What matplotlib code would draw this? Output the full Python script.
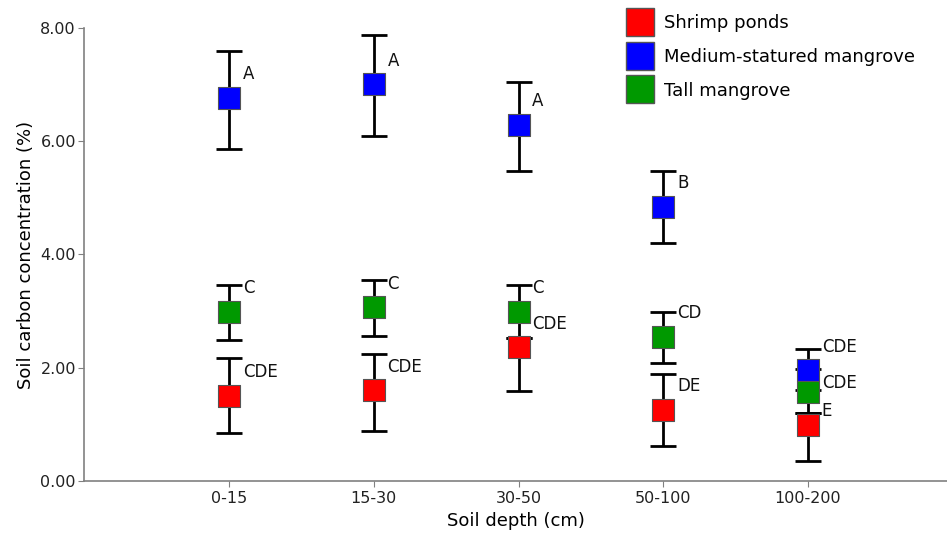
import matplotlib.pyplot as plt
from matplotlib.lines import Line2D

depths = ['0-15', '15-30', '30-50', '50-100', '100-200']
series = ['Shrimp ponds', 'Medium-statured mangrove', 'Tall mangrove']
colors = ['#ff0000', '#0000ff', '#009900']

# means and error bar ends (%)
shrimp_mean = [1.50, 1.61, 2.37, 1.25, 0.99]
shrimp_low = [0.85, 0.88, 1.59, 0.62, 0.35]
shrimp_high = [2.17, 2.24, 2.53, 1.89, 1.20]

medium_mean = [6.77, 7.01, 6.29, 4.84, 1.96]
medium_low = [5.87, 6.10, 5.48, 4.20, 1.60]
medium_high = [7.60, 7.88, 7.05, 5.48, 2.33]

tall_mean = [2.99, 3.07, 2.99, 2.54, 1.57]
tall_low = [2.49, 2.56, 2.53, 2.08, 1.20]
tall_high = [3.46, 3.55, 3.46, 2.98, 1.98]

# significance letters and their heights
shrimp_letters = ['CDE', 'CDE', 'CDE', 'DE', 'E']
shrimp_letter_y = [1.93, 2.01, 2.77, 1.68, 1.24]
medium_letters = ['A', 'A', 'A', 'B', 'CDE']
medium_letter_y = [7.19, 7.42, 6.71, 5.26, 2.37]
tall_letters = ['C', 'C', 'C', 'CD', 'CDE']
tall_letter_y = [3.41, 3.48, 3.41, 2.97, 1.73]

fig = plt.figure(figsize=(9.47, 5.36), dpi=100)
ax = fig.add_axes([0.089, 0.1026, 0.911, 0.8452])

x = list(range(len(depths)))
groups = [
    (shrimp_mean, shrimp_low, shrimp_high, shrimp_letters, shrimp_letter_y),
    (medium_mean, medium_low, medium_high, medium_letters, medium_letter_y),
    (tall_mean, tall_low, tall_high, tall_letters, tall_letter_y),
]

for i, (mean, low, high, letters, ly) in enumerate(groups):
    yerr = [[m - l for m, l in zip(mean, low)], [h - m for m, h in zip(mean, high)]]
    ax.errorbar(x, mean, yerr=yerr, fmt='none', ecolor='black', elinewidth=2,
                capsize=9.5, capthick=2, zorder=2)
    ax.scatter(x, mean, marker='s', s=16**2, color=colors[i], edgecolor='#555555',
               linewidth=0.8, zorder=3)
    for xi, lab, yy in zip(x, letters, ly):
        ax.text(xi + 0.095, yy, lab, fontsize=12, ha='left', va='center', color='#111111')

ax.set_xlim(-1, 4.96)
ax.set_ylim(0, 8)
ax.set_xticks(x)
ax.set_xticklabels(depths)
ax.set_yticks([0, 2, 4, 6, 8])
ax.set_yticklabels(['%.2f' % v for v in [0, 2, 4, 6, 8]])
ax.tick_params(labelsize=11.5, length=4, color='#808080', labelcolor='#222222')
ax.tick_params(axis='y', pad=2)

for s in ['top', 'right']:
    ax.spines[s].set_visible(False)
for s in ['left', 'bottom']:
    ax.spines[s].set_color('#808080')
    ax.spines[s].set_linewidth(1.2)

ax.set_xlabel('Soil depth (cm)', fontsize=13, labelpad=4)
ax.set_ylabel('Soil carbon concentration (%)', fontsize=13, labelpad=4)

handles = [Line2D([], [], marker='s', linestyle='none', markersize=19.5,
                  markerfacecolor=c, markeredgecolor='#555555') for c in colors]
fig.legend(handles, series, loc='upper left', bbox_to_anchor=(0.656, 0.989),
           frameon=False, fontsize=13, handletextpad=0.7, labelspacing=0.88,
           borderaxespad=0.0, borderpad=0.45, handlelength=1.2)

fig.savefig('out.png', dpi=100)
